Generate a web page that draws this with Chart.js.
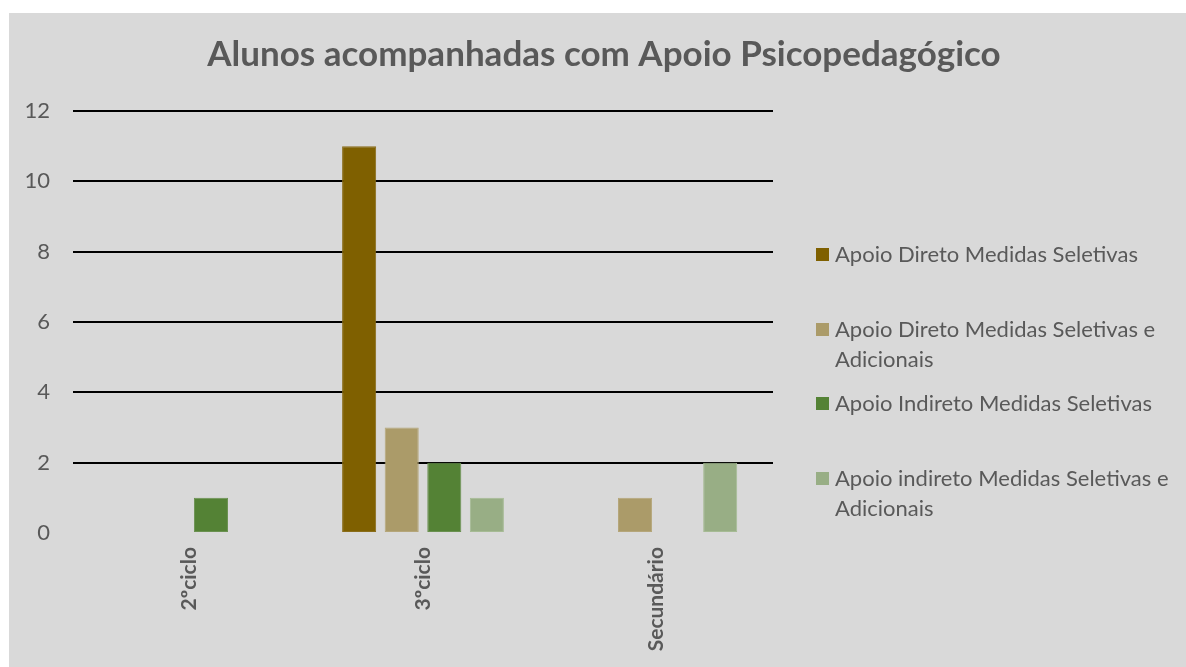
<!DOCTYPE html>
<html lang="pt">
<head>
<meta charset="utf-8">
<title>Alunos acompanhadas com Apoio Psicopedagógico</title>
<script src="https://cdn.jsdelivr.net/npm/chart.js@4.4.1/dist/chart.umd.min.js"></script>
<style>
    html, body { margin: 0; padding: 0; background: #ffffff; }
    #panel {
        position: absolute; left: 9px; top: 13px;
        width: 1177px; height: 654px;
        background: #d9d9d9; overflow: hidden;
    }
    #chart { position: absolute; left: 0; top: 0; }
    #legend {
        position: absolute; left: 807px; top: 226px;
        font-family: Lato, sans-serif; font-size: 22px; color: #595959;
    }
    .item { position: absolute; left: 0; display: flex; }
    .swatch { width: 13px; height: 13px; margin-top: 9px; margin-right: 6px; flex: none; }
    .text { line-height: 30px; white-space: nowrap; }
</style>
</head>
<body>
<div id="panel">
    <canvas id="chart" width="1177" height="654"></canvas>
    <div id="legend"></div>
</div>
<script>
// School levels on the x axis
const categories = ['2ºciclo', '3ºciclo', 'Secundário'];

// Legend names, split where the legend wraps them
const seriesNames = [
    ['Apoio Direto Medidas Seletivas'],
    ['Apoio Direto Medidas Seletivas e', 'Adicionais'],
    ['Apoio Indireto Medidas Seletivas'],
    ['Apoio indireto Medidas Seletivas e', 'Adicionais']
];

// Number of students per level (empty cells are null)
const diretoSeletivas = [null, 11, null];
const diretoSeletivasAdicionais = [null, 3, 1];
const indiretoSeletivas = [1, 2, null];
const indiretoSeletivasAdicionais = [null, 1, 2];

const seriesColors = ['#7f6000', '#ab9b69', '#548235', '#98ae85'];
const seriesBorders = ['#8a6d1a', '#b5a67a', '#6a9150', '#a6bb94'];

const yMax = 12;
const yStep = 2;

const textColor = '#595959';
const fontFamily = "Lato, 'Open Sans', sans-serif";

const seriesValues = [diretoSeletivas, diretoSeletivasAdicionais, indiretoSeletivas, indiretoSeletivasAdicionais];

const datasets = seriesValues.map((values, i) => ({
    label: seriesNames[i].join(' '),
    data: values,
    backgroundColor: seriesColors[i],
    borderColor: seriesBorders[i],
    borderWidth: 1,
    borderSkipped: false,
    categoryPercentage: 0.73,
    barPercentage: 0.8
}));

const chart = new Chart(document.getElementById('chart'), {
    type: 'bar',
    data: { labels: categories, datasets: datasets },
    options: {
        responsive: false,
        animation: false,
        devicePixelRatio: 1,
        layout: { padding: { left: 13, right: 0, top: 0, bottom: 0 } },
        plugins: {
            legend: { display: false },
            tooltip: { enabled: false },
            title: {
                display: true,
                text: 'Alunos acompanhadas com Apoio Psicopedagógico',
                color: textColor,
                font: { family: fontFamily, size: 35, weight: 'bold' },
                padding: { top: 21, bottom: 35 }
            }
        },
        scales: {
            x: {
                grid: { display: false, drawTicks: false },
                border: { display: false },
                ticks: {
                    color: textColor,
                    font: { family: fontFamily, size: 21, weight: 'bold' },
                    minRotation: 90,
                    maxRotation: 90,
                    padding: 14
                },
                afterFit: (scale) => { scale.height = 134; }
            },
            y: {
                min: 0,
                max: yMax,
                grid: {
                    drawTicks: false,
                    lineWidth: 2,
                    color: (ctx) => ctx.tick && ctx.tick.value === 0 ? 'rgba(0,0,0,0)' : '#000000'
                },
                border: { display: false },
                ticks: {
                    stepSize: yStep,
                    color: textColor,
                    font: { family: fontFamily, size: 22 },
                    padding: 23
                },
                afterFit: (scale) => { scale.width = 51; }
            },
            // empty strip on the right that leaves room for the legend
            legendSpace: {
                type: 'linear',
                position: 'right',
                grid: { display: false, drawTicks: false },
                border: { display: false },
                ticks: { display: false },
                afterFit: (scale) => { scale.width = 413; }
            }
        }
    }
});

// Legend on the right, with the long names wrapped onto two lines
const legend = document.getElementById('legend');
seriesNames.forEach((lines, i) => {
    const item = document.createElement('div');
    item.className = 'item';
    item.style.top = Math.round(i * 74.5) + 'px';
    const swatch = document.createElement('div');
    swatch.className = 'swatch';
    swatch.style.background = seriesColors[i];
    const text = document.createElement('div');
    text.className = 'text';
    text.innerHTML = lines.join('<br>');
    item.appendChild(swatch);
    item.appendChild(text);
    legend.appendChild(item);
});
</script>
</body>
</html>
